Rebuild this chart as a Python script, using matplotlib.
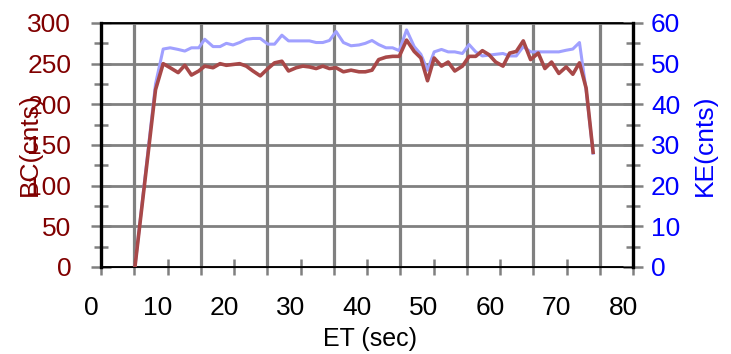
import matplotlib
matplotlib.use("Agg")
import matplotlib.pyplot as plt
from matplotlib.ticker import MultipleLocator
from matplotlib.transforms import ScaledTranslation

plt.rcParams['font.family'] = ['Liberation Sans', 'DejaVu Sans']

# elapsed time (sec)
et = [5.1, 8.2, 9.35, 10.4, 11.6, 12.6, 13.6, 14.7, 15.6, 16.85,
      17.9, 18.85, 19.85, 20.85, 21.85, 22.85, 23.95, 25.1, 26.1, 27.2,
      28.2, 29.35, 30.35, 31.35, 32.35, 33.35, 34.35, 35.35, 36.45, 37.6,
      38.8, 39.75, 40.75, 41.75, 42.85, 43.85, 44.85, 45.95, 47.1, 48.1,
      49.1, 50.1, 51.2, 52.2, 53.2, 54.35, 55.35, 56.35, 57.35, 58.35,
      59.35, 60.45, 61.45, 62.45, 63.5, 64.6, 65.75, 66.75, 67.75, 68.85,
      69.95, 70.95, 71.95, 72.95, 74.0]

bc = [0, 218, 250, 245, 239, 248, 236, 241, 247, 245,
      250, 248, 249, 250, 247, 241, 235, 244, 251, 253,
      241, 245, 247, 246, 244, 247, 244, 245, 240, 242,
      240, 240, 242, 255, 258, 259, 259, 279, 265, 257,
      229, 257, 247, 252, 241, 247, 259, 259, 266, 261,
      252, 247, 263, 265, 278, 255, 263, 244, 252, 238,
      246, 237, 251, 220, 141]

ke = [0, 45, 53.6, 53.9, 53.5, 53.1, 53.9, 53.9, 56, 54.2,
      54.2, 55, 54.6, 55.2, 56, 56.2, 56.2, 54.8, 54.8, 57,
      55.6, 55.6, 55.6, 55.6, 55.2, 55.2, 55.7, 57.9, 55.2, 54.4,
      54.6, 55, 55.7, 54.7, 53.9, 53.9, 53.2, 58.3, 54.2, 52.3,
      48.4, 52.9, 53.5, 52.9, 52.9, 52.5, 54.7, 52.9, 51.9, 52.1,
      52.3, 52.5, 51.9, 51.9, 54.2, 52.9, 52.9, 52.9, 52.9, 52.9,
      53.3, 53.6, 55.2, 43.5, 28]

GRAY = '#808080'
fs = 19

fig = plt.figure(figsize=(7.31, 3.54), dpi=100)
ax = fig.add_axes([101/731, 1-267/354, 532/731, 244/354])
ax2 = ax.twinx()

ax.set_xlim(0, 80)
ax.set_ylim(0, 300)
ax2.set_ylim(0, 60)

ax.xaxis.set_major_locator(MultipleLocator(10))
ax.xaxis.set_minor_locator(MultipleLocator(5))
ax.yaxis.set_major_locator(MultipleLocator(50))
ax.yaxis.set_minor_locator(MultipleLocator(25))
ax2.yaxis.set_major_locator(MultipleLocator(10))
ax2.yaxis.set_minor_locator(MultipleLocator(5))

# grid: vertical lines at the half-decades, horizontal at major y
ax.xaxis.grid(True, which='minor', color=GRAY, lw=2.3)
ax.yaxis.grid(True, which='major', color=GRAY, lw=2.0)

# KE on the right axis, BC drawn on top using the left scale
ax2.plot(et, ke, color='#A0A0FF', lw=2.2, zorder=2)
ax2.plot(et, bc, color='#A84848', lw=2.6, zorder=3, transform=ax.transData)

for a in (ax, ax2):
    for s in a.spines.values():
        s.set_color('black')
ax.spines['left'].set_linewidth(2.4)
ax.spines['top'].set_linewidth(1.3)
ax.spines['bottom'].set_linewidth(1.3)
ax2.spines['right'].set_linewidth(2.4)
ax2.spines['left'].set_visible(False)

ax.tick_params(axis='x', which='both', direction='inout', length=11.5,
               width=1.8, color=GRAY, labelsize=fs, pad=15, labelcolor='black')
ax.tick_params(axis='y', which='major', direction='inout', length=15,
               width=1.8, color=GRAY, labelsize=fs, pad=14, labelcolor='#800000')
ax.tick_params(axis='y', which='minor', direction='inout', length=10,
               width=1.8, color=GRAY)
ax2.tick_params(axis='y', which='major', direction='inout', length=14,
                width=1.8, color=GRAY, labelsize=fs, pad=6, labelcolor='#0000FF')
ax2.tick_params(axis='y', which='minor', direction='inout', length=10,
                width=1.8, color=GRAY)

shift = ScaledTranslation(-7/72, 0, fig.dpi_scale_trans)
for lab in ax.get_xticklabels():
    lab.set_transform(lab.get_transform() + shift)

ax.set_xlabel('ET (sec)', fontsize=18, color='black')
ax.xaxis.set_label_coords(0.505, -0.245)
ax.set_ylabel('BC(cnts)', fontsize=fs, color='#800000')
ax.yaxis.set_label_coords(-0.112, 0.5)
ax2.set_ylabel('KE(cnts)', fontsize=fs, color='#0000FF', rotation=90)
ax2.yaxis.set_label_coords(1.113, 0.5)

fig.savefig('out.png', dpi=100)
